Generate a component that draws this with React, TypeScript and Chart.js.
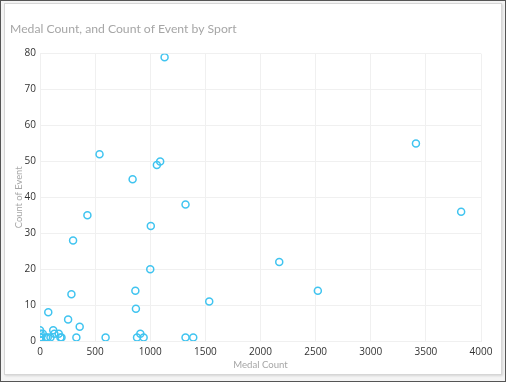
import React, { useEffect, useRef } from "react";
import { Chart, registerables } from "chart.js";

Chart.register(...registerables);

const chartTitle = "Medal Count, and Count of Event by Sport";
const xAxisTitle = "Medal Count";
const yAxisTitle = "Count of Event";

const medalCount = [
  1130, 3410, 3820, 2170, 2520, 540, 1060, 1090, 840, 1320, 1005, 1000, 865, 870,
  1535, 595, 880, 910, 940, 1320, 1390, 430, 300, 285, 75, 255, 360, 330, 0, 5,
  10, 25, 55, 70, 95, 120, 130, 170, 185, 195, 0,
];
const eventCount = [
  79, 55, 36, 22, 14, 52, 49, 50, 45, 38, 32, 20, 14, 9, 11, 1, 1, 2, 1, 1, 1, 35,
  28, 13, 8, 6, 4, 1, 3, 2, 1, 2, 1, 1, 1, 3, 2, 2, 1, 1, 1,
];

const xMin = 0;
const xMax = 4000;
const xStep = 500;
const yMin = 0;
const yMax = 80;
const yStep = 10;

const FONT = "'Open Sans', 'Noto Sans', sans-serif";
const TITLE_FONT = "Lato, 'Open Sans', sans-serif";

export default function App() {
  const ref = useRef<HTMLCanvasElement | null>(null);

  useEffect(() => {
    if (!ref.current) return;
    const points = medalCount.map((x, i) => ({ x, y: eventCount[i] }));
    const chart = new Chart(ref.current, {
      type: "scatter",
      data: {
        datasets: [
          {
            label: "Sport",
            data: points,
            pointStyle: "circle",
            pointRadius: 3.5,
            pointHoverRadius: 3.5,
            borderColor: "#40c4f0",
            backgroundColor: "rgba(255,255,255,0)",
            borderWidth: 1.5,
          },
        ],
      },
      options: {
        animation: false,
        responsive: false,
        devicePixelRatio: 1,
        layout: { padding: { left: 5, right: 20, top: 0, bottom: 3 } },
        plugins: {
          legend: { display: false },
          tooltip: { enabled: false },
          title: {
            display: true,
            text: chartTitle,
            align: "start",
            color: "#a6a6a6",
            font: { family: TITLE_FONT, size: 12.2, weight: "normal" },
            padding: { top: 18, bottom: 17 },
          },
        },
        scales: {
          x: {
            type: "linear",
            min: xMin,
            max: xMax,
            ticks: {
              stepSize: xStep,
              color: "#333",
              font: { family: FONT, size: 10 },
              padding: 5,
              maxRotation: 0,
              callback: (v: any) => String(v),
            },
            grid: { color: "#f0f0f0", drawTicks: false },
            border: { color: "#f0f0f0" },
            title: {
              display: true,
              text: xAxisTitle,
              color: "#a6a6a6",
              font: { family: TITLE_FONT, size: 9.6 },
              padding: { top: 0, bottom: 0 },
            },
            afterFit: (s: any) => {
              s.height = 30;
            },
          },
          y: {
            type: "linear",
            min: yMin,
            max: yMax,
            ticks: {
              stepSize: yStep,
              color: "#333",
              font: { family: FONT, size: 10 },
              padding: 4,
              callback: (v: any) => String(v),
            },
            grid: { color: "#f0f0f0", drawTicks: false },
            border: { color: "#f0f0f0" },
            title: {
              display: true,
              text: yAxisTitle,
              color: "#a6a6a6",
              font: { family: TITLE_FONT, size: 9.4 },
              padding: { top: 3.5, bottom: 0 },
            },
            afterFit: (s: any) => {
              s.width = 30;
            },
          },
        },
      },
    });
    return () => chart.destroy();
  }, []);

  return (
    <div
      style={{
        position: "fixed",
        left: 0,
        top: 0,
        width: 506,
        height: 382,
        boxSizing: "border-box",
        border: "1px solid #555",
        background: "#f4f4f4",
      }}
    >
      <div
        style={{
          position: "absolute",
          left: 3,
          top: 2,
          width: 498,
          height: 372,
          boxSizing: "border-box",
          border: "1px solid #d6d6d6",
          background: "#fff",
          boxShadow: "1px 1px 2px rgba(0,0,0,0.12)",
        }}
      >
        <canvas
          ref={ref}
          width={496}
          height={370}
          style={{ position: "absolute", left: 0, top: 0, width: 496, height: 370 }}
        />
      </div>
    </div>
  );
}
